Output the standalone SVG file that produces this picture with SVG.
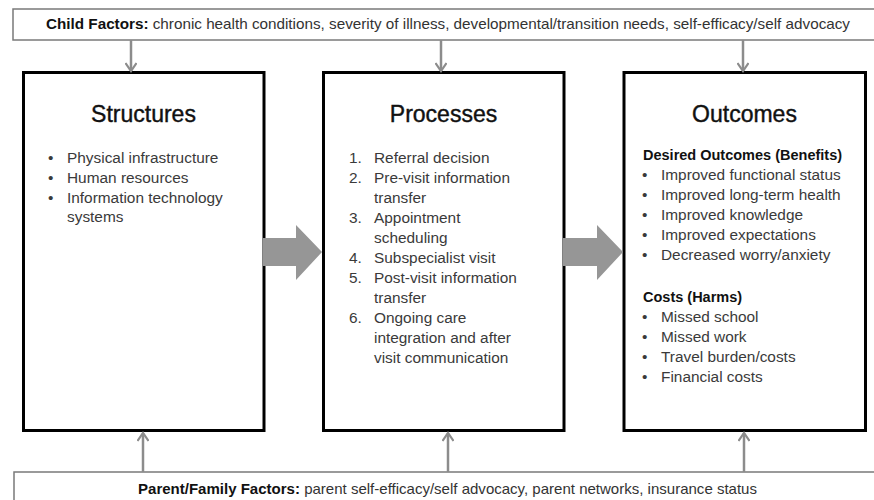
<svg xmlns="http://www.w3.org/2000/svg" width="874" height="500" viewBox="0 0 874 500">
  <defs>
    <marker id="chev" markerWidth="12" markerHeight="12" refX="9" refY="6" orient="auto" markerUnits="userSpaceOnUse">
      <path d="M1,0.5 L9,6 L1,11.5" fill="none" stroke="#8c8c8c" stroke-width="2.2"/>
    </marker>
  </defs>
  <style>
    .factor { fill: #ffffff; stroke: #7a7a7a; stroke-width: 1.5; }
    .stage { fill: #ffffff; stroke: #000000; stroke-width: 3; }
    .title { font-family: "Liberation Sans", Arial, sans-serif; font-size: 23px; fill: #111; stroke: #111; stroke-width: 0.4; text-anchor: middle; }
    .body { font-family: "Liberation Sans", Arial, sans-serif; font-size: 15.4px; fill: #3a3a3a; }
    .head { font-family: "Liberation Sans", Arial, sans-serif; font-size: 14.5px; font-weight: bold; fill: #111; }
    .fact { font-family: "Liberation Sans", Arial, sans-serif; font-size: 14.5px; fill: #333; }
    .fact tspan.b { font-weight: bold; fill: #111; }
    .link { stroke: #8c8c8c; stroke-width: 2.5; fill: none; marker-end: url(#chev); }
    .flow { fill: #969696; }
  </style>

  <!-- influencing factors -->
  <g id="child-factors">
    <rect class="factor" x="13" y="9" width="880" height="31"/>
    <text class="fact" x="46" y="29" textLength="804" lengthAdjust="spacingAndGlyphs"><tspan class="b">Child Factors:</tspan> chronic health conditions, severity of illness, developmental/transition needs, self-efficacy/self advocacy</text>
  </g>
  <g id="family-factors">
    <rect class="factor" x="14" y="472" width="880" height="40"/>
    <text class="fact" x="138" y="494" textLength="619" lengthAdjust="spacingAndGlyphs"><tspan class="b">Parent/Family Factors:</tspan> parent self-efficacy/self advocacy, parent networks, insurance status</text>
  </g>

  <!-- stages -->
  <g id="structures">
    <rect class="stage" x="23.5" y="72.5" width="240.5" height="358"/>
    <text class="title" x="143.5" y="122">Structures</text>
    <g class="body">
      <text x="48" y="163">•</text><text x="67" y="163">Physical infrastructure</text>
      <text x="48" y="183">•</text><text x="67" y="183">Human resources</text>
      <text x="48" y="203">•</text><text x="67" y="203">Information technology</text>
      <text x="67" y="222">systems</text>
    </g>
  </g>

  <g id="processes">
    <rect class="stage" x="323.5" y="72.5" width="240.5" height="358"/>
    <text class="title" x="443.5" y="122">Processes</text>
    <g class="body">
      <text x="349" y="163">1.</text><text x="374" y="163">Referral decision</text>
      <text x="349" y="183">2.</text><text x="374" y="183">Pre-visit information</text>
      <text x="374" y="203">transfer</text>
      <text x="349" y="223">3.</text><text x="374" y="223">Appointment</text>
      <text x="374" y="243">scheduling</text>
      <text x="349" y="263">4.</text><text x="374" y="263">Subspecialist visit</text>
      <text x="349" y="283">5.</text><text x="374" y="283">Post-visit information</text>
      <text x="374" y="303">transfer</text>
      <text x="349" y="323">6.</text><text x="374" y="323">Ongoing care</text>
      <text x="374" y="343">integration and after</text>
      <text x="374" y="363">visit communication</text>
    </g>
  </g>

  <g id="outcomes">
    <rect class="stage" x="624" y="72.5" width="241.5" height="358"/>
    <text class="title" x="744.5" y="122">Outcomes</text>
    <text class="head" x="643" y="160">Desired Outcomes (Benefits)</text>
    <g class="body">
      <text x="642" y="180">•</text><text x="661" y="180">Improved functional status</text>
      <text x="642" y="200">•</text><text x="661" y="200">Improved long-term health</text>
      <text x="642" y="220">•</text><text x="661" y="220">Improved knowledge</text>
      <text x="642" y="240">•</text><text x="661" y="240">Improved expectations</text>
      <text x="642" y="260">•</text><text x="661" y="260">Decreased worry/anxiety</text>
    </g>
    <text class="head" x="643" y="302">Costs (Harms)</text>
    <g class="body">
      <text x="642" y="322">•</text><text x="661" y="322">Missed school</text>
      <text x="642" y="342">•</text><text x="661" y="342">Missed work</text>
      <text x="642" y="362">•</text><text x="661" y="362">Travel burden/costs</text>
      <text x="642" y="382">•</text><text x="661" y="382">Financial costs</text>
    </g>
  </g>

  <!-- connectors -->
  <g id="connectors">
    <path class="flow" d="M263,238 H296 V225 L322,252 L296,280 V266 H263 Z"/>
    <path class="flow" d="M563,238 H597 V225 L623,252 L597,280 V266 H563 Z"/>
    <line class="link" x1="131" y1="40" x2="131" y2="71"/>
    <line class="link" x1="441" y1="40" x2="441" y2="71"/>
    <line class="link" x1="743" y1="40" x2="743" y2="71"/>
    <line class="link" x1="143" y1="472" x2="143" y2="433"/>
    <line class="link" x1="448" y1="472" x2="448" y2="433"/>
    <line class="link" x1="744" y1="472" x2="744" y2="433"/>
  </g>
</svg>
